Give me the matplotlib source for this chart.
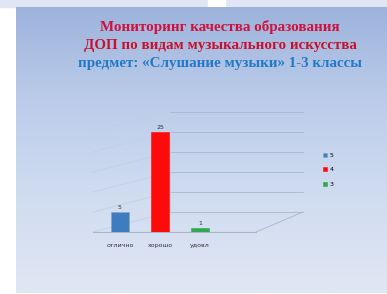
import numpy as np
import matplotlib
matplotlib.use("Agg")
import matplotlib.pyplot as plt
from matplotlib.colors import LinearSegmentedColormap
from matplotlib.patches import Rectangle

# ---- data ----
categories = ["отлично", "хорошо", "удовл"]
series_names = ["5", "4", "3"]
values = [5, 25, 1]
colors = ["#3d7dbf", "#ff0a0a", "#2fa84c"]
title_lines = ["Мониторинг качества образования",
               "ДОП по видам музыкального искусства",
               "предмет: «Слушание музыки» 1-3 классы"]

W, H = 387, 294
fig = plt.figure(figsize=(W / 100, H / 100), dpi=100)

# background (pixel coordinates)
bg = fig.add_axes([0, 0, 1, 1])
bg.set_xlim(0, W)
bg.set_ylim(H, 0)
bg.axis("off")
bg.add_patch(Rectangle((0, 0), W, H, color="white", zorder=0))
bg.add_patch(Rectangle((0, 0), W, 7, color="#e1e6f4", zorder=1))
bg.add_patch(Rectangle((208, 0), 17, 7, color="white", zorder=1))
cmap = LinearSegmentedColormap.from_list("g", ["#9db3dc", "#bccdea", "#d0dcf0", "#e0e7f4"])
grad = np.linspace(0, 1, 256).reshape(-1, 1)
bg.imshow(grad, cmap=cmap, extent=(16, W, 293, 7), aspect="auto", zorder=2)

# 3D-like walls
gc = "#a9b6cc"
for k in range(6):
    yb = 212 - 20 * k
    bg.plot([170, 303], [yb, yb], color=gc, lw=0.6, zorder=3)
    bg.plot([93, 170], [232 - 20 * k, yb], color="#c3cde0", lw=0.5, zorder=3)
bg.plot([170, 170], [112, 212], color="#c3cde0", lw=0.5, zorder=3)
bg.plot([256, 303], [232, 212], color=gc, lw=0.6, zorder=3)
bg.plot([93, 256], [232, 232], color=gc, lw=0.8, zorder=3)

# title
ty = [27, 45, 63]
tc = ["#d0103a", "#c8102e", "#2278c8"]
for t, y, c in zip(title_lines, ty, tc):
    bg.text(220, y, t, ha="center", va="center", fontsize=10.8, fontweight="bold",
            family="Liberation Serif", color=c, zorder=5)

# bar axes
x0, x1 = 93, 256
base, top = 232, 132
ax = fig.add_axes([x0 / W, (H - base) / H, (x1 - x0) / W, (base - top) / H])
ax.patch.set_alpha(0)
ax.set_xlim(-0.675, 3.4)
ax.set_ylim(0, 25)
for s in ax.spines.values():
    s.set_visible(False)
ax.set_yticks([])
ax.set_xticks([])
pos = np.arange(len(categories))
for i, (name, v, c) in enumerate(zip(series_names, values, colors)):
    ax.bar(pos[i], v, width=0.43, color=c, edgecolor="#8aa0c0" if i == 0 else c, lw=0.4, label=name)
    ax.text(pos[i], v + 0.6, str(v), ha="center", va="bottom", fontsize=4.5, color="#333333")
for i, cat in enumerate(categories):
    ax.text(pos[i], -2.8, cat, ha="center", va="top", fontsize=4.5, color="#333333")

leg = ax.legend(loc="upper left", bbox_to_anchor=((317 - x0) / (x1 - x0), 0.85),
                frameon=False, fontsize=4.5, handlelength=0.7, handleheight=0.7,
                labelspacing=1.45, handletextpad=0.4)

fig.savefig("out.png", dpi=100)
